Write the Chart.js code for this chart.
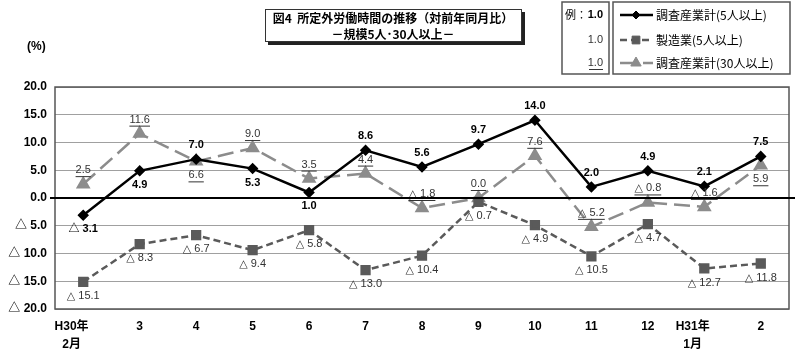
<!DOCTYPE html>
<html>
<head>
<meta charset="utf-8">
<script src="https://cdn.jsdelivr.net/npm/chart.js@4.4.1/dist/chart.umd.min.js"></script>
<style>
  body { margin: 0; background: #fff; }
  #wrap { width: 800px; height: 355px; position: relative; }
</style>
</head>
<body>
<div id="wrap"><canvas id="myChart"></canvas></div>
<script>
var categories = [['H30年', '2月'], '3', '4', '5', '6', '7', '8', '9', '10', '11', '12', ['H31年', '1月'], '2'];
var allIndustries5 = [-3.1, 4.9, 7.0, 5.3, 1.0, 8.6, 5.6, 9.7, 14.0, 2.0, 4.9, 2.1, 7.5];
var manufacturing5 = [-15.1, -8.3, -6.7, -9.4, -5.8, -13.0, -10.4, -0.7, -4.9, -10.5, -4.7, -12.7, -11.8];
var allIndustries30 = [2.5, 11.6, 6.6, 9.0, 3.5, 4.4, -1.8, 0.0, 7.6, -5.2, -0.8, -1.6, 5.9];
var yTicks = [20, 15, 10, 5, 0, -5, -10, -15, -20];
var seriesNames = ['調査産業計(5人以上)', '製造業(5人以上)', '調査産業計(30人以上)'];

// where each value label sits: a = above the point, b = below
var labelSide = [
    ['b', 'b', 'a', 'b', 'b', 'a', 'a', 'a', 'a', 'a', 'a', 'a', 'a'],
    ['b', 'b', 'b', 'b', 'b', 'b', 'b', 'b', 'b', 'b', 'b', 'b', 'b'],
    ['a', 'a', 'b', 'a', 'a', 'a', 'a', 'a', 'a', 'a', 'a', 'a', 'b']
];

var JP = '"Liberation Sans", "Noto Sans CJK JP", sans-serif';
var NARROW = '"Liberation Sans Narrow", "Liberation Sans", "DejaVu Sans", sans-serif';

function fmt(v) {
    // negative values are written with a triangle in Japanese stats
    var s = Math.abs(v).toFixed(1);
    return v < 0 ? '\u25B3 ' + s : s;
}

var labelStyles = [
    { font: 'bold 11px ' + JP, color: '#000', underline: false },
    { font: '11px ' + NARROW, color: '#333', underline: false },
    { font: '11px ' + NARROW, color: '#333', underline: true }
];

var valueLabels = {
    id: 'valueLabels',
    afterDatasetsDraw: function(chart) {
        var ctx = chart.ctx;
        ctx.save();
        ctx.textAlign = 'center';
        ctx.textBaseline = 'middle';
        chart.data.datasets.forEach(function(ds, di) {
            var meta = chart.getDatasetMeta(di);
            var st = labelStyles[di];
            ctx.font = st.font;
            ctx.fillStyle = st.color;
            meta.data.forEach(function(pt, i) {
                var txt = fmt(ds.data[i]);
                var y = pt.y + (labelSide[di][i] === 'a' ? -14 : 14);
                ctx.fillText(txt, pt.x, y);
                if (st.underline) {
                    var w = ctx.measureText(txt).width;
                    ctx.fillRect(pt.x - w / 2, y + 6, w, 1);
                }
            });
        });
        ctx.restore();
    }
};

function drawMarker(ctx, style, x, y, r) {
    Chart.helpers.drawPoint(ctx, { pointStyle: style, radius: r, borderWidth: 1, rotation: 0 }, x, y);
}

var decor = {
    id: 'decor',
    beforeDraw: function(chart) {
        var ctx = chart.ctx;
        ctx.save();
        ctx.fillStyle = '#fff';
        ctx.fillRect(0, 0, chart.width, chart.height);
        ctx.restore();
    },
    afterDraw: function(chart) {
        var ctx = chart.ctx;
        var a = chart.chartArea;
        ctx.save();

        // plot frame
        ctx.strokeStyle = '#555';
        ctx.lineWidth = 1.5;
        ctx.strokeRect(a.left, a.top, a.right - a.left, a.bottom - a.top);

        // zero line runs a little past the frame on both sides
        var y0 = chart.scales.y.getPixelForValue(0);
        ctx.strokeStyle = '#000';
        ctx.lineWidth = 2;
        ctx.beginPath();
        ctx.moveTo(a.left - 5, y0);
        ctx.lineTo(a.right + 6, y0);
        ctx.stroke();

        // unit
        ctx.fillStyle = '#000';
        ctx.font = 'bold 12px ' + JP;
        ctx.textAlign = 'left';
        ctx.textBaseline = 'middle';
        ctx.fillText('(%)', 27, 47);

        // title box with shadow
        ctx.fillStyle = '#222';
        ctx.fillRect(268, 12, 257, 33);
        ctx.fillStyle = '#fff';
        ctx.fillRect(265, 9, 257, 33);
        ctx.strokeStyle = '#333';
        ctx.lineWidth = 1;
        ctx.strokeRect(265.5, 9.5, 256, 32);
        ctx.fillStyle = '#000';
        ctx.font = 'bold 12px "Noto Sans CJK JP", sans-serif';
        ctx.textAlign = 'center';
        ctx.fillText('図4  所定外労働時間の推移（対前年同月比）', 393, 18, 250);
        ctx.fillText('－規模5人･30人以上－', 393, 34);

        // sample box
        ctx.strokeStyle = '#555';
        ctx.lineWidth = 1.5;
        ctx.strokeRect(562, 2, 47, 72);
        ctx.strokeRect(613, 2, 177, 72);
        ctx.textAlign = 'right';
        ctx.font = '11px ' + NARROW;
        ctx.fillStyle = '#333';
        ctx.fillText('1.0', 603, 40);
        ctx.fillText('1.0', 603, 63);
        ctx.fillRect(589, 69, 14, 1);
        ctx.font = 'bold 11px ' + JP;
        ctx.fillStyle = '#000';
        ctx.fillText('1.0', 603, 15);
        ctx.font = '11px "Noto Sans CJK JP", sans-serif';
        ctx.textAlign = 'left';
        ctx.fillText('例：', 565, 15);

        // legend rows
        var rows = [15, 40, 63];
        chart.data.datasets.forEach(function(ds, di) {
            var y = rows[di];
            ctx.strokeStyle = ds.borderColor;
            ctx.fillStyle = ds.pointBackgroundColor;
            ctx.lineWidth = ds.borderWidth;
            ctx.setLineDash(ds.borderDash || []);
            ctx.beginPath();
            ctx.moveTo(620, y);
            ctx.lineTo(653, y);
            ctx.stroke();
            ctx.setLineDash([]);
            ctx.lineWidth = 1;
            drawMarker(ctx, ds.pointStyle, 636, y, ds.pointRadius);
            ctx.fillStyle = '#000';
            ctx.font = '12px "Noto Sans CJK JP", sans-serif';
            ctx.fillText(ds.label, 656, y, 132);
        });
        ctx.restore();
    }
};

var ctx = document.getElementById('myChart').getContext('2d');
var myChart = new Chart(ctx, {
    type: 'line',
    data: {
        labels: categories,
        datasets: [{
            label: seriesNames[0],
            data: allIndustries5,
            borderColor: '#000',
            backgroundColor: '#000',
            pointBackgroundColor: '#000',
            pointBorderColor: '#000',
            pointStyle: 'rectRot',
            pointRadius: 4,
            borderWidth: 2.5,
            tension: 0
        }, {
            label: seriesNames[1],
            data: manufacturing5,
            borderColor: '#5a5a5a',
            backgroundColor: '#5a5a5a',
            pointBackgroundColor: '#5a5a5a',
            pointBorderColor: '#5a5a5a',
            pointStyle: 'rect',
            pointRadius: 5.5,
            borderWidth: 2.5,
            borderDash: [7, 4],
            tension: 0
        }, {
            label: seriesNames[2],
            data: allIndustries30,
            borderColor: '#8c8c8c',
            backgroundColor: '#8c8c8c',
            pointBackgroundColor: '#8c8c8c',
            pointBorderColor: '#8c8c8c',
            pointStyle: 'triangle',
            pointRadius: 6,
            borderWidth: 2.5,
            borderDash: [16, 7],
            tension: 0
        }]
    },
    options: {
        responsive: true,
        maintainAspectRatio: false,
        animation: false,
        events: [],
        layout: { padding: { top: 87, right: 11, left: 0, bottom: 0 } },
        plugins: {
            legend: { display: false },
            title: { display: false },
            tooltip: { enabled: false }
        },
        scales: {
            x: {
                offset: true,
                grid: { display: false },
                border: { display: false },
                afterFit: function(scale) { scale.height = 46; },
                ticks: {
                    color: '#000',
                    padding: 1,
                    maxRotation: 0,
                    autoSkip: false,
                    font: { family: JP, size: 12, weight: 'bold', lineHeight: 1.5 },
                    callback: function(v) {
                        var l = categories[v];
                        // two-line labels sit a little left of their point in the original
                        return Array.isArray(l) ? l.map(function(s) { return s + '       '; }) : l;
                    }
                }
            },
            y: {
                min: -20,
                max: 20,
                afterFit: function(scale) { scale.width = 55; },
                afterBuildTicks: function(scale) {
                    scale.ticks = yTicks.map(function(v) { return { value: v }; });
                },
                border: { display: false },
                grid: {
                    drawTicks: false,
                    color: function(c) { return c.tick && c.tick.value === 0 ? '#000' : '#a0a0a0'; },
                    lineWidth: function(c) { return c.tick && c.tick.value === 0 ? 2 : 1; }
                },
                ticks: {
                    color: '#000',
                    padding: 8,
                    font: { family: JP, size: 12, weight: 'bold' },
                    callback: function(v) { return fmt(v); }
                }
            }
        }
    },
    plugins: [decor, valueLabels]
});
</script>
</body>
</html>
